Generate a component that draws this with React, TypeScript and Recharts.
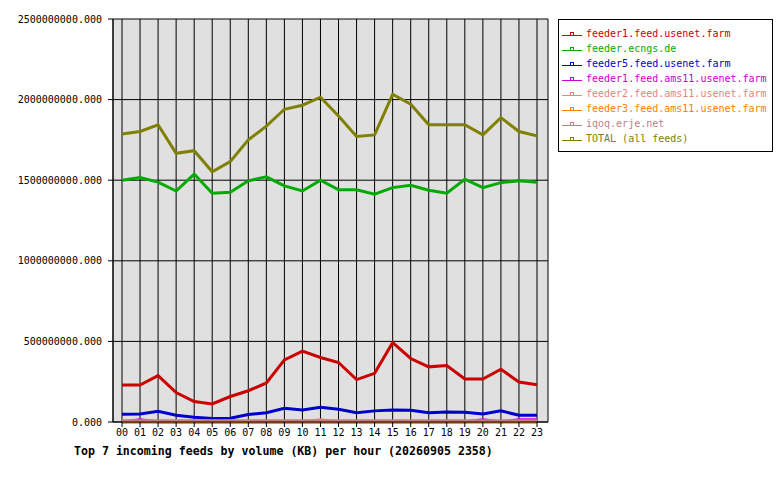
import React from "react"
import {
  LineChart,
  Line,
  XAxis,
  YAxis,
  CartesianGrid,
} from "recharts"

// hours of the day
const hours = [
  "00", "01", "02", "03", "04", "05", "06", "07", "08", "09", "10", "11",
  "12", "13", "14", "15", "16", "17", "18", "19", "20", "21", "22", "23",
]

// values in KB (millions)
const feeder1Usenet = [
  229, 229, 288, 183, 127, 112, 158, 194, 242, 385, 440, 400,
  369, 263, 302, 492, 394, 342, 350, 267, 267, 327, 248, 231,
]
const feederEcngs = [
  1500, 1517, 1488, 1433, 1538, 1419, 1425, 1496, 1521, 1465, 1433, 1500,
  1440, 1440, 1413, 1454, 1469, 1438, 1419, 1506, 1454, 1485, 1496, 1488,
]
const feeder5Usenet = [
  48, 50, 67, 42, 29, 21, 23, 46, 58, 85, 75, 92,
  79, 58, 69, 75, 73, 58, 62, 60, 50, 69, 42, 42,
]
const feeder1Ams11 = [
  0, 14, 0, 0, 0, 0, 0, 0, 0, 0, 0, 0,
  0, 0, 0, 0, 0, 0, 0, 0, 14, 0, 14, 14,
]
const feeder2Ams11 = [
  0, 0, 0, 0, 0, 0, 0, 0, 0, 0, 0, 14,
  0, 0, 0, 0, 0, 0, 0, 0, 0, 0, 0, 0,
]
const feeder3Ams11 = [
  0, 0, 0, 0, 0, 0, 0, 0, 0, 0, 0, 0,
  0, 0, 0, 0, 0, 0, 0, 0, 0, 0, 0, 0,
]
const iqoqErje = [
  8, 8, 8, 8, 8, 8, 8, 8, 8, 8, 8, 8,
  8, 8, 8, 8, 8, 8, 8, 8, 8, 8, 8, 8,
]
const totalAll = [
  1787, 1802, 1844, 1667, 1683, 1552, 1615, 1750, 1835, 1940, 1965, 2015,
  1898, 1771, 1781, 2033, 1971, 1844, 1844, 1844, 1781, 1888, 1802, 1775,
]

const yTicks = [0, 500000000, 1000000000, 1500000000, 2000000000, 2500000000]

const series = [
  { key: "feeder1.feed.usenet.farm", values: feeder1Usenet, color: "#cc0000" },
  { key: "feeder.ecngs.de", values: feederEcngs, color: "#00aa00" },
  { key: "feeder5.feed.usenet.farm", values: feeder5Usenet, color: "#0000cc" },
  { key: "feeder1.feed.ams11.usenet.farm", values: feeder1Ams11, color: "#cc00cc" },
  { key: "feeder2.feed.ams11.usenet.farm", values: feeder2Ams11, color: "#f08080" },
  { key: "feeder3.feed.ams11.usenet.farm", values: feeder3Ams11, color: "#ff8000" },
  { key: "iqoq.erje.net", values: iqoqErje, color: "#c08080" },
  { key: "TOTAL (all feeds)", values: totalAll, color: "#808000" },
]

const data = hours.map((h, i) => {
  const row: any = { hour: h }
  series.forEach((s) => {
    row[s.key] = s.values[i] * 1000000
  })
  return row
})

const mono = "'DejaVu Sans Mono', monospace"

function LegendBox() {
  return (
    <div
      style={{
        position: "absolute",
        left: 558,
        top: 19,
        width: 206,
        background: "#fff",
        border: "1px solid #000",
        padding: "6px 4px 5px 3px",
        fontFamily: mono,
        fontSize: 10,
        lineHeight: "15px",
      }}
    >
      {series.map((s) => (
        <div key={s.key} style={{ display: "flex", alignItems: "center", color: s.color }}>
          <svg width={21} height={8} style={{ marginRight: 3 }}>
            <line x1={0} y1={5.5} x2={20} y2={5.5} stroke={s.color} strokeWidth={1} />
            <rect x={8.5} y={2.5} width={3} height={3} fill="none" stroke={s.color} strokeWidth={1} />
          </svg>
          <span>{s.key}</span>
        </div>
      ))}
    </div>
  )
}

export default function App() {
  return (
    <div style={{ position: "absolute", left: 0, top: 0, width: 780, height: 480, background: "#fff" }}>
      <LineChart
        width={780}
        height={480}
        data={data}
        margin={{ top: 19, right: 232, bottom: 38, left: 0 }}
      >
        <CartesianGrid
          yAxisId="left"
          stroke="#000"
          strokeWidth={1}
          fill="#e0e0e0"
          fillOpacity={1}
        />
        <XAxis
          dataKey="hour"
          padding={{ left: 9, right: 11 }}
          height={20}
          interval={0}
          stroke="#000"
          tickSize={5}
          tickMargin={2}
          tick={{ fill: "#000", fontFamily: mono, fontSize: 10 }}
        />
        <YAxis
          yAxisId="left"
          domain={[0, 2500000000]}
          ticks={yTicks}
          width={113}
          stroke="#000"
          tickSize={5}
          tickMargin={6}
          tickFormatter={(v: number) => v.toFixed(3)}
          tick={{ fill: "#000", fontFamily: mono, fontSize: 10 }}
        />
        <YAxis yAxisId="right" orientation="right" width={0} stroke="#000" tick={false} tickLine={false} />
        {series.map((s) => (
          <Line
            key={s.key}
            yAxisId="left"
            type="linear"
            dataKey={s.key}
            stroke={s.color}
            strokeWidth={3}
            dot={false}
            isAnimationActive={false}
          />
        ))}
      </LineChart>
      <LegendBox />
      <div
        style={{
          position: "absolute",
          left: 74,
          top: 444,
          fontFamily: mono,
          fontWeight: "bold",
          fontSize: 11.6,
          color: "#000",
          whiteSpace: "nowrap",
        }}
      >
        Top 7 incoming feeds by volume (KB) per hour (20260905 2358)
      </div>
    </div>
  )
}
